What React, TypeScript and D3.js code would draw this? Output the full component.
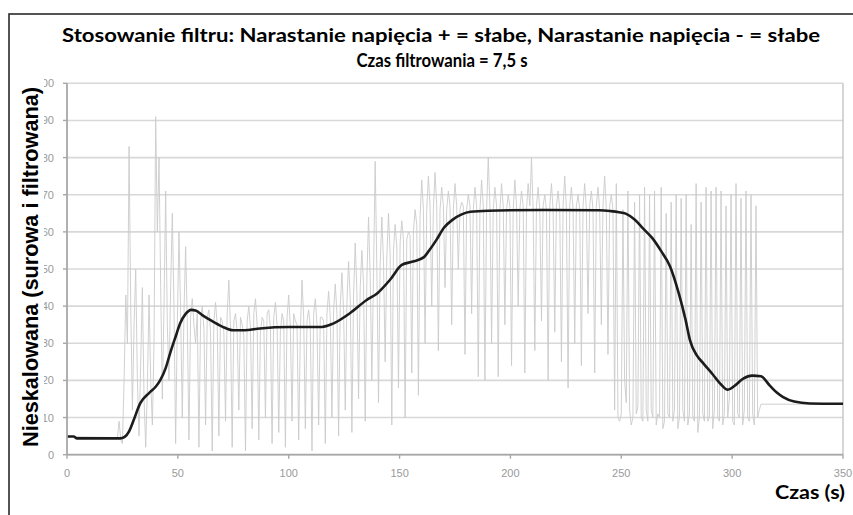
import React from 'react';
import * as d3 from 'd3';

// ---- Data ----
const titleLine1 = 'Stosowanie filtru: Narastanie napięcia + = słabe, Narastanie napięcia - = słabe';
const titleLine2 = 'Czas filtrowania = 7,5 s';
const yAxisTitle = 'Nieskalowana (surowa i filtrowana)';
const xAxisTitle = 'Czas (s)';

const xTicks = [0, 50, 100, 150, 200, 250, 300, 350];
const yTicks = [0, 10, 20, 30, 40, 50, 60, 70, 80, 90, 100];

// filtered signal (time s, value)
const filteredT = [0, 3, 4.5, 24, 26, 28, 30, 33, 37, 40, 42, 44.5, 46.5, 49, 51, 53.5, 56, 58, 61, 64.5, 70, 75, 80, 87, 100, 115, 120, 127.6, 135, 140, 145.7, 151, 156, 161, 163.5, 166.7, 170, 174, 178, 182, 190, 215, 240, 245, 249, 252, 256, 260, 264, 268, 272, 276, 279, 281, 284, 287, 291, 295, 298, 301, 305, 309, 313, 317, 320, 323, 328, 335, 350];
const filteredV = [4.9, 4.9, 4.4, 4.4, 4.8, 6.3, 9.2, 13.8, 16.6, 18.3, 20, 23.3, 27.3, 31.8, 35.3, 37.9, 39, 38.8, 37.6, 36.3, 34.5, 33.5, 33.5, 34, 34.4, 34.4, 35.3, 38.1, 41.6, 43.5, 47.1, 51.1, 52, 53.2, 55.1, 57.9, 61.1, 63.3, 64.7, 65.4, 65.7, 65.9, 65.8, 65.6, 65.3, 64.9, 63.3, 60.8, 58.3, 54.8, 50.7, 43.3, 36.3, 30.8, 26.8, 24.6, 21.8, 18.9, 17.5, 18.5, 20.5, 21.3, 21.1, 18.6, 16.8, 15.5, 14.3, 13.8, 13.7];

// raw signal: flat lead, samples every 0.75 s from 22 s to 313 s, flat tail
const rawLeadT = 0;
const rawLeadV = 4.9;
const rawStartT = 22;
const rawStepT = 0.75;
const rawV = [
  4.6, 4.6, 9, 4, 3, 20, 43, 30, 83, 40, 12, 35, 50, 20, 5, 25, 45, 15, 2, 18,
  43, 20, 8, 30, 91, 60, 80, 45, 15, 40, 71, 35, 20, 45, 65, 40, 3, 35, 60, 38,
  10, 38, 56, 36, 4, 37, 42, 35, 30, 38, 2, 36, 40, 34, 8, 37, 39, 33, 1, 36,
  41, 35, 5, 37, 36, 33, 9, 38, 47, 34, 2, 36, 38, 33, 12, 37, 35, 32, 1, 36,
  40, 34, 7, 38, 42, 35, 4, 33, 37, 36, 10, 38, 39, 34, 3, 37, 41, 35, 6, 33,
  38, 36, 2, 37, 43, 34, 9, 38, 36, 35, 4, 33, 47, 37, 7, 36, 39, 34, 1, 38,
  42, 35, 8, 37, 37, 36, 3, 38, 44, 37, 10, 39, 46, 38, 5, 40, 49, 39, 12, 41,
  52, 42, 6, 43, 57, 44, 15, 45, 55, 46, 9, 47, 64, 48, 20, 49, 79, 50, 14, 51,
  64, 52, 25, 53, 65, 54, 8, 55, 62, 56, 18, 57, 63, 58, 10, 58, 60, 59, 22, 60,
  66, 62, 16, 64, 74, 66, 30, 66, 75, 67, 40, 66, 76, 67, 28, 66, 72, 67, 45, 66,
  71, 67, 35, 66, 73, 67, 50, 66, 68, 67, 27, 66, 70, 67, 38, 66, 72, 67, 21, 66,
  74, 67, 20, 66, 80, 67, 30, 66, 72, 67, 21, 66, 73, 67, 35, 66, 70, 67, 24, 66,
  74, 67, 40, 66, 71, 67, 22, 66, 73, 67, 80, 66, 28, 67, 72, 66, 36, 67, 70, 66,
  20, 67, 73, 66, 33, 67, 71, 66, 25, 67, 75, 66, 18, 67, 72, 66, 30, 67, 70, 66,
  24, 67, 73, 66, 38, 67, 71, 66, 22, 67, 72, 66, 35, 67, 75, 66, 27, 67, 70, 66,
  12, 73, 10, 9, 11, 66, 20, 14, 71, 12, 8, 10, 68, 11, 13, 70, 10, 9, 72, 12,
  9, 70, 12, 10, 71, 8, 11, 10, 72, 7, 9, 65, 11, 10, 68, 9, 12, 70, 7, 10,
  69, 12, 9, 70, 8, 11, 62, 10, 9, 73, 6, 10, 68, 11, 9, 72, 9, 10, 71, 7,
  12, 72, 10, 9, 71, 8, 11, 67, 10, 15, 70, 9, 8, 73, 11, 10, 69, 8, 12, 71,
  10, 9, 70, 11, 8, 67, 10, 12, 13.6,
];
const rawTailT = 350;
const rawTailV = 13.6;

export default function App() {
  const W = 853;
  const H = 515;
  const x = d3.scaleLinear().domain([0, 350]).range([67, 843]);
  const y = d3.scaleLinear().domain([0, 100]).range([454.7, 83.3]);

  const rawPts: [number, number][] = [
    [rawLeadT, rawLeadV],
    ...rawV.map((v, i) => [rawStartT + i * rawStepT, v] as [number, number]),
    [rawTailT, rawTailV],
  ];
  const filtPts: [number, number][] = filteredT.map((t, i) => [t, filteredV[i]]);

  const rawLine = d3.line<[number, number]>().x(d => x(d[0])).y(d => y(d[1]));
  const filtLine = d3
    .line<[number, number]>()
    .x(d => x(d[0]))
    .y(d => y(d[1]))
    .curve(d3.curveMonotoneX);

  const x0 = x(0);
  const x1 = x(350);
  const y0 = y(0);
  const y1 = y(100);

  return (
    <svg
      width={W}
      height={H}
      style={{ position: 'absolute', left: 0, top: 0, background: '#fff' }}
    >
      <rect x={0} y={0} width={W} height={H} fill="#fff" />
      {/* outer chart border */}
      <rect x={9} y={14} width={900} height={600} fill="none" stroke="#2a2a2a" strokeWidth={1.6} />

      {/* gridlines */}
      {yTicks.map(t => (
        <line key={'g' + t} x1={x0} x2={x1} y1={y(t)} y2={y(t)} stroke="#d8d8d8" strokeWidth={1.6} />
      ))}
      {/* right plot border */}
      <line x1={x1} x2={x1} y1={y1} y2={y0} stroke="#c4c4c4" strokeWidth={1.4} />

      {/* raw */}
      <path d={rawLine(rawPts) || ''} fill="none" stroke="#cbcbcb" strokeWidth={0.9} />
      {/* filtered */}
      <path d={filtLine(filtPts) || ''} fill="none" stroke="#1c1c1c" strokeWidth={2.6} />

      {/* axes */}
      <line x1={x0} x2={x0} y1={y1} y2={y0} stroke="#a8a8a8" strokeWidth={1.8} />
      <line x1={x0} x2={x1} y1={y0} y2={y0} stroke="#a8a8a8" strokeWidth={1.8} />
      {yTicks.map(t => (
        <line key={'yt' + t} x1={x0 - 4} x2={x0} y1={y(t)} y2={y(t)} stroke="#a8a8a8" strokeWidth={1.4} />
      ))}
      {xTicks.map(t => (
        <line key={'xt' + t} x1={x(t)} x2={x(t)} y1={y0} y2={y0 + 4} stroke="#a8a8a8" strokeWidth={1.4} />
      ))}
      {yTicks.map(t => (
        <text
          key={'yl' + t}
          x={54}
          y={y(t) + 4}
          textAnchor="end"
          fontFamily="'Liberation Sans', Arial, sans-serif"
          fontSize={11}
          fill="#9a9a9a"
        >
          {t}
        </text>
      ))}
      {xTicks.map(t => (
        <text
          key={'xl' + t}
          x={x(t)}
          y={477}
          textAnchor="middle"
          fontFamily="'Liberation Sans', Arial, sans-serif"
          fontSize={11}
          fill="#9a9a9a"
        >
          {t}
        </text>
      ))}

      {/* y axis title with opaque box */}
      <rect x={17} y={72} width={27} height={382} fill="#fff" />
      <text
        transform="translate(37.5,267) rotate(-90)"
        textAnchor="middle"
        fontFamily="'Liberation Sans', Arial, sans-serif"
        fontWeight="bold"
        fontSize={21.5}
        fill="#000"
        textLength={360}
        lengthAdjust="spacingAndGlyphs"
      >
        {yAxisTitle}
      </text>

      {/* titles */}
      <text
        x={441}
        y={42}
        textAnchor="middle"
        fontFamily="Lato, 'Open Sans', sans-serif"
        fontWeight="bold"
        fontSize={18.5}
        fill="#000"
        textLength={758}
        lengthAdjust="spacingAndGlyphs"
      >
        {titleLine1}
      </text>
      <text
        x={442}
        y={67}
        textAnchor="middle"
        fontFamily="Lato, 'Open Sans', sans-serif"
        fontWeight="bold"
        fontSize={18.5}
        fill="#000"
        textLength={171}
        lengthAdjust="spacingAndGlyphs"
      >
        {titleLine2}
      </text>
      <text
        x={845}
        y={499}
        textAnchor="end"
        fontFamily="Lato, 'Open Sans', sans-serif"
        fontWeight="bold"
        fontSize={19}
        fill="#000"
        textLength={70}
        lengthAdjust="spacingAndGlyphs"
      >
        {xAxisTitle}
      </text>
    </svg>
  );
}
